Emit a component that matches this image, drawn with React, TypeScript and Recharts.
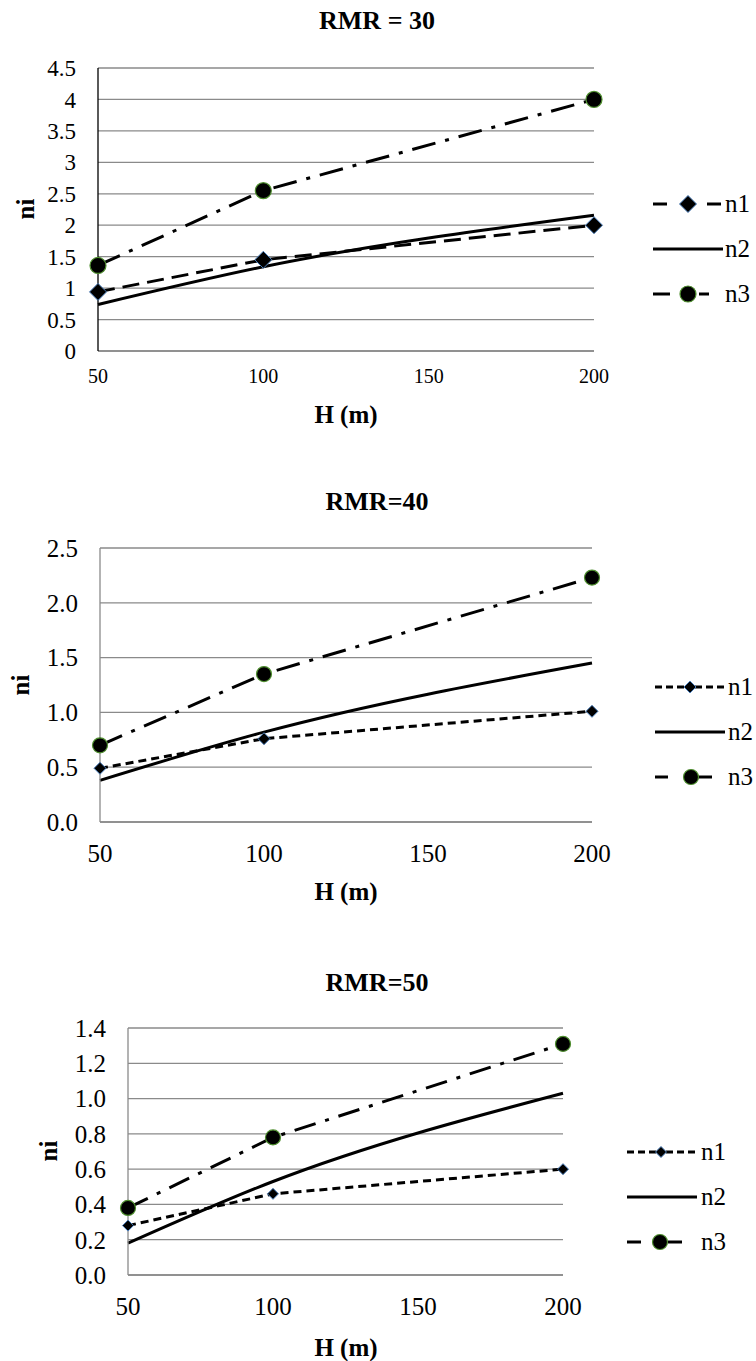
import { CartesianGrid, Legend, Line, LineChart, XAxis, YAxis } from "recharts";

const H_VALUES = [50, 100, 200];
const X_TICKS = [50, 100, 150, 200];

const RMR30_N1 = [0.94, 1.45, 2.0];
const RMR30_N2 = [0.74, 1.34, 2.16];
const RMR30_N3 = [1.36, 2.55, 4.0];
const RMR30_TICKS = [0, 0.5, 1, 1.5, 2, 2.5, 3, 3.5, 4, 4.5];

const RMR40_N1 = [0.49, 0.76, 1.01];
const RMR40_N2 = [0.38, 0.82, 1.45];
const RMR40_N3 = [0.7, 1.35, 2.23];
const RMR40_TICKS = [0, 0.5, 1, 1.5, 2, 2.5];

const RMR50_N1 = [0.28, 0.46, 0.6];
const RMR50_N2 = [0.18, 0.53, 1.03];
const RMR50_N3 = [0.38, 0.78, 1.31];
const RMR50_TICKS = [0, 0.2, 0.4, 0.6, 0.8, 1.0, 1.2, 1.4];

const SERIES_NAMES = ["n1", "n2", "n3"];

const FONT = "'Liberation Serif', serif";
const GRID = "#8a8a8a";
const DIAMOND_EDGE = "#4a7ebb";
const CIRCLE_EDGE = "#4f8f2f";

function toRows(n1: number[], n2: number[], n3: number[]) {
  return H_VALUES.map((h, i) => ({ h, n1: n1[i], n2: n2[i], n3: n3[i] }));
}

function diamondDot(size: number) {
  return (props: any) => {
    const { cx, cy, index } = props;
    if (cx == null || cy == null) return <g key={`d-${index}`} />;
    return (
      <path
        key={`d-${index}`}
        d={`M${cx},${cy - size}L${cx + size},${cy}L${cx},${cy + size}L${cx - size},${cy}Z`}
        fill="#000"
        stroke={DIAMOND_EDGE}
        strokeWidth={1}
      />
    );
  };
}

function circleDot(r: number) {
  return (props: any) => {
    const { cx, cy, index } = props;
    if (cx == null || cy == null) return <g key={`c-${index}`} />;
    return <circle key={`c-${index}`} cx={cx} cy={cy} r={r} fill="#000" stroke={CIRCLE_EDGE} strokeWidth={1.2} />;
  };
}

function CenterText({ x, y, size, bold, rotate, children }: any) {
  return (
    <div
      style={{
        position: "absolute",
        left: x,
        top: y,
        transform: `translate(-50%, -50%)${rotate ? " rotate(-90deg)" : ""}`,
        fontFamily: FONT,
        fontSize: size,
        fontWeight: bold ? "bold" : "normal",
        lineHeight: 1,
        whiteSpace: "nowrap",
      }}
    >
      {children}
    </div>
  );
}

// legend icon: segments [from,to] along 70px, marker position
function LegendIcon({ name, cfg }: any) {
  const y = 10;
  const icon = cfg.legendIcons[name];
  return (
    <svg width={72} height={20} style={{ display: "block", overflow: "visible" }}>
      {icon.segs.map((s: number[], i: number) => (
        <line
          key={i}
          x1={s[0]}
          x2={s[1]}
          y1={y}
          y2={y}
          stroke="#000"
          strokeWidth={3}
          strokeDasharray={icon.dash}
        />
      ))}
      {name === "n1" && (
        <path
          d={`M${icon.m},${y - cfg.diamond}L${icon.m + cfg.diamond},${y}L${icon.m},${y + cfg.diamond}L${icon.m - cfg.diamond},${y}Z`}
          fill="#000"
          stroke={DIAMOND_EDGE}
          strokeWidth={1}
        />
      )}
      {name === "n3" && <circle cx={icon.m} cy={y} r={cfg.circle} fill="#000" stroke={CIRCLE_EDGE} strokeWidth={1.2} />}
    </svg>
  );
}

function LegendBox({ cfg }: any) {
  return (
    <div style={{ fontFamily: FONT, fontSize: 25 }}>
      {SERIES_NAMES.map((name) => (
        <div key={name} style={{ display: "flex", alignItems: "center", height: 45 }}>
          <LegendIcon name={name} cfg={cfg} />
          <span style={{ marginLeft: cfg.legendTextGap, lineHeight: 1 }}>{name}</span>
        </div>
      ))}
    </div>
  );
}

const PANELS = [
  {
    title: "RMR = 30",
    top: 0,
    height: 440,
    margin: { top: 68, right: 162, bottom: 49, left: 38 },
    n1: RMR30_N1,
    n2: RMR30_N2,
    n3: RMR30_N3,
    yDomain: [0, 4.5],
    yTicks: RMR30_TICKS,
    yFmt: (v: number) => String(v),
    yFont: 23,
    xFont: 20,
    xGap: 18,
    yAxisColor: "#000",
    n1Dash: "17 8",
    n3Dash: "24 10 4 10",
    diamond: 8.5,
    circle: 8,
    titleY: 21,
    hY: 414,
    niX: 25,
    niY: 209,
    legendLeft: 653,
    legendTop: 181,
    legendTextGap: 0,
    legendIcons: {
      n1: { segs: [[0, 14], [54, 68]], m: 35 },
      n2: { segs: [[0, 70]] },
      n3: { segs: [[0, 17], [46, 56]], m: 35 },
    },
  },
  {
    title: "RMR=40",
    top: 440,
    height: 440,
    margin: { top: 108, right: 164, bottom: 18, left: 40 },
    n1: RMR40_N1,
    n2: RMR40_N2,
    n3: RMR40_N3,
    yDomain: [0, 2.5],
    yTicks: RMR40_TICKS,
    yFmt: (v: number) => v.toFixed(1),
    yFont: 25,
    xFont: 25,
    xGap: 22,
    yAxisColor: GRID,
    n1Dash: "8 5",
    n3Dash: "24 10 4 10",
    diamond: 6,
    circle: 7.5,
    titleY: 62,
    hY: 451,
    niX: 20,
    niY: 245,
    legendLeft: 655,
    legendTop: 224,
    legendTextGap: 1,
    legendIcons: {
      n1: { segs: [[0, 30], [40, 70]], m: 35, dash: "7 4" },
      n2: { segs: [[0, 70]] },
      n3: { segs: [[0, 13], [42, 57]], m: 36 },
    },
  },
  {
    title: "RMR=50",
    top: 880,
    height: 481,
    margin: { top: 148, right: 193, bottom: 46, left: 68 },
    n1: RMR50_N1,
    n2: RMR50_N2,
    n3: RMR50_N3,
    yDomain: [0, 1.4],
    yTicks: RMR50_TICKS,
    yFmt: (v: number) => v.toFixed(1),
    yFont: 25,
    xFont: 25,
    xGap: 22,
    yAxisColor: GRID,
    n1Dash: "8 5",
    n3Dash: "22 10 4 10",
    diamond: 5.5,
    circle: 7.5,
    titleY: 103,
    hY: 467,
    niX: 48,
    niY: 271,
    legendLeft: 627,
    legendTop: 249,
    legendTextGap: 2,
    legendIcons: {
      n1: { segs: [[0, 30], [39, 70]], m: 34, dash: "7 4" },
      n2: { segs: [[0, 70]] },
      n3: { segs: [[0, 14], [41, 55]], m: 33 },
    },
  },
];

function Panel({ cfg }: any) {
  const rows = toRows(cfg.n1, cfg.n2, cfg.n3);
  return (
    <div style={{ position: "absolute", left: 0, top: cfg.top, width: 756, height: cfg.height }}>
      <LineChart width={756} height={cfg.height} data={rows} margin={cfg.margin}>
        <CartesianGrid vertical={false} stroke={GRID} strokeWidth={1.3} />
        <XAxis
          dataKey="h"
          type="number"
          domain={[50, 200]}
          ticks={X_TICKS}
          interval={0}
          height={40}
          tickLine={false}
          tickSize={0}
          tickMargin={cfg.xGap}
          axisLine={{ stroke: GRID, strokeWidth: 1.3 }}
          tick={{ fontSize: cfg.xFont, fill: "#000", fontFamily: FONT }}
        />
        <YAxis
          type="number"
          domain={cfg.yDomain}
          ticks={cfg.yTicks}
          interval={0}
          width={60}
          tickLine={false}
          tickSize={0}
          tickMargin={22}
          tickFormatter={cfg.yFmt}
          axisLine={{ stroke: cfg.yAxisColor, strokeWidth: 1.3 }}
          tick={{ fontSize: cfg.yFont, fill: "#000", fontFamily: FONT }}
        />
        <Legend
          layout="vertical"
          align="center"
          verticalAlign="middle"
          wrapperStyle={{ left: cfg.legendLeft, top: cfg.legendTop, width: 110 }}
          content={() => <LegendBox cfg={cfg} />}
        />
        <Line
          dataKey="n1"
          type="linear"
          stroke="#000"
          strokeWidth={3}
          strokeDasharray={cfg.n1Dash}
          dot={diamondDot(cfg.diamond)}
          activeDot={false}
          isAnimationActive={false}
        />
        <Line
          dataKey="n2"
          type="monotone"
          stroke="#000"
          strokeWidth={3}
          dot={false}
          activeDot={false}
          isAnimationActive={false}
        />
        <Line
          dataKey="n3"
          type="linear"
          stroke="#000"
          strokeWidth={3}
          strokeDasharray={cfg.n3Dash}
          dot={circleDot(cfg.circle)}
          activeDot={false}
          isAnimationActive={false}
        />
      </LineChart>
      <CenterText x={377} y={cfg.titleY} size={26} bold>
        {cfg.title}
      </CenterText>
      <CenterText x={346} y={cfg.hY} size={25} bold>
        H (m)
      </CenterText>
      <CenterText x={cfg.niX} y={cfg.niY} size={25} bold rotate>
        ni
      </CenterText>
    </div>
  );
}

export default function App() {
  return (
    <div style={{ position: "absolute", left: 0, top: 0, width: 756, height: 1361, background: "#fff", overflow: "hidden" }}>
      {PANELS.map((cfg) => (
        <Panel key={cfg.title} cfg={cfg} />
      ))}
    </div>
  );
}
